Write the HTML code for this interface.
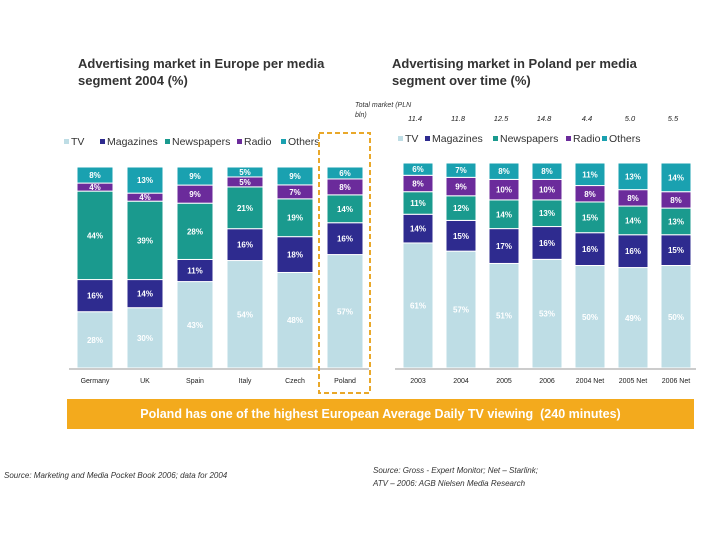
<!DOCTYPE html>
<html><head><meta charset="utf-8"><style>
body{margin:0;background:#fff;width:720px;height:540px;overflow:hidden;font-family:"Liberation Sans",sans-serif;position:relative}
.t{position:absolute;font-weight:bold;font-size:13px;color:#333;line-height:17px}
.src{position:absolute;font-style:italic;font-size:8px;color:#333}
</style></head><body>
<div class="t" style="left:78px;top:55px">Advertising market in Europe per media<br>segment 2004 (%)</div>
<div class="t" style="left:392px;top:55px">Advertising market in Poland per media<br>segment over time (%)</div>
<svg id="chart" width="720" height="540" style="position:absolute;left:0;top:0"></svg>
<div style="position:absolute;left:67px;top:399px;width:627px;height:30px;background:#f3aa1d;color:#fff;font-weight:bold;font-size:12.5px;text-align:center;line-height:30px">Poland has one of the highest European Average Daily TV viewing&nbsp; (240 minutes)</div>
<div class="src" style="left:4px;top:471px">Source: Marketing and Media Pocket Book 2006; data for 2004</div>
<div class="src" style="left:373px;top:464px;line-height:13px">Source: Gross - Expert Monitor; Net – Starlink;<br>ATV – 2006: AGB Nielsen Media Research</div>
<script>
const segs=["TV","Magazines","Newspapers","Radio","Others"];
const colors=["#bedde5","#2e2b8f","#1a9a8e","#6b2b9b","#1aa1b0"];
const euCats=["Germany","UK","Spain","Italy","Czech","Poland"];
const euTV=[28,30,43,54,48,57];
const euMag=[16,14,11,16,18,16];
const euNews=[44,39,28,21,19,14];
const euRadio=[4,4,9,5,7,8];
const euOther=[8,13,9,5,9,6];
const plCats=["2003","2004","2005","2006","2004 Net","2005 Net","2006 Net"];
const plTotal=["11.4","11.8","12.5","14.8","4.4","5.0","5.5"];
const plTV=[61,57,51,53,50,49,50];
const plMag=[14,15,17,16,16,16,15];
const plNews=[11,12,14,13,15,14,13];
const plRadio=[8,9,10,10,8,8,8];
const plOther=[6,7,8,8,11,13,14];
const svg=document.getElementById('chart');
const NS="http://www.w3.org/2000/svg";
function mk(tag,attrs,txt){const e=document.createElementNS(NS,tag);for(const k in attrs)e.setAttribute(k,attrs[k]);if(txt!==undefined)e.textContent=txt;svg.appendChild(e);return e;}
function drawChart(prefix,cats,series,x0,step,bw,top,bottom){
  const h=bottom-top;
  mk('line',{x1:x0-8,x2:x0+step*cats.length-8,y1:bottom+1,y2:bottom+1,stroke:'#999','stroke-width':1});
  cats.forEach((c,i)=>{
    const vals=series.map(s=>s[i]);const sum=vals.reduce((a,b)=>a+b,0);
    let y=bottom;const x=x0+i*step;
    vals.forEach((v,j)=>{
      const hh=v/sum*h;
      const r=mk('rect',{x:x,y:y-hh,width:bw,height:hh,fill:colors[j],stroke:'#fff','stroke-width':1});
      
      
      const t=mk('text',{x:x+bw/2,y:y-hh/2+3,'text-anchor':'middle','font-size':8,'font-weight':'bold',fill:'#fff','font-family':'Liberation Sans'},v+'%');
      
      
      y-=hh;
    });
    const l=mk('text',{x:x+bw/2,y:bottom+15,'text-anchor':'middle','font-size':7,fill:'#222','font-family':'Liberation Sans'},c);
    
    
  });
}
function legend(x,y,prefix,offs,fs){
  segs.forEach((s,i)=>{
    const r=mk('rect',{x:x+offs[i],y:y-6,width:5,height:5,fill:colors[i]});
    
    
    const t=mk('text',{x:x+offs[i]+7,y:y,'font-size':fs,fill:'#333','font-family':'Liberation Sans'},s);
    
    
  });
}
legend(64,145,'europe',[0,36,101,173,217],10.5);
legend(398,142,'poland',[0,27,95,168,204],10.5);
drawChart('europe',euCats,[euTV,euMag,euNews,euRadio,euOther],77,50,36,167,368);
drawChart('poland',plCats,[plTV,plMag,plNews,plRadio,plOther],403,43,30,163,368);
const tm=mk('text',{x:355,y:107,'font-size':7,'font-style':'italic',fill:'#333','font-family':'Liberation Sans'},'Total market (PLN');


const tm2=mk('text',{x:355,y:117,'font-size':7,'font-style':'italic',fill:'#333','font-family':'Liberation Sans'},'bln)');


plTotal.forEach((v,i)=>{
  const t=mk('text',{x:403+i*43+12,y:121,'text-anchor':'middle','font-size':7.5,'font-style':'italic',fill:'#222','font-family':'Liberation Sans'},v);
  
  
});
const box=mk('rect',{x:319,y:133,width:51,height:260,fill:'none',stroke:'#e9a82a','stroke-width':2,'stroke-dasharray':'5,3'});


</script>
</body></html>
